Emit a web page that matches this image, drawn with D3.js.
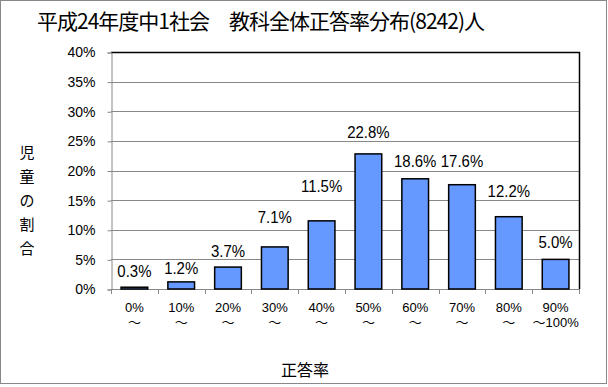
<!DOCTYPE html>
<html>
<head>
<meta charset="utf-8">
<script src="https://cdn.jsdelivr.net/npm/d3@7"></script>
<style>
  body { margin: 0; background: #fff; }
  text { font-family: "Liberation Sans", "Noto Sans CJK JP", sans-serif; }
</style>
</head>
<body>
<div id="viz"></div>
<script>
//-------Data-----------
var categories = ["0%", "10%", "20%", "30%", "40%", "50%", "60%", "70%", "80%", "90%"];
var secondLines = ["～", "～", "～", "～", "～", "～", "～", "～", "～", "～100%"];
var values = [0.3, 1.2, 3.7, 7.1, 11.5, 22.8, 18.6, 17.6, 12.2, 5.0];
var yTicks = [0, 5, 10, 15, 20, 25, 30, 35, 40];
var title = "平成24年度中1社会　教科全体正答率分布(8242)人";
var yTitle = ["児", "童", "の", "割", "合"];
var xTitle = "正答率";

//---------------------------------
var width = 608, height = 387;
var plot = {left: 111, right: 579, top: 52, bottom: 289};
// the labels were nudged by hand in the original, gap above each bar in px
var labelGap = [10, 8, 10, 24, 29, 16, 12, 18, 20, 11];

var svg = d3.select("#viz").append("svg")
    .attr("width", width)
    .attr("height", height);

svg.append("rect")
    .attr("x", 0.5).attr("y", 0.5)
    .attr("width", 606).attr("height", 383)
    .style("fill", "#fff")
    .style("stroke", "#888")
    .style("stroke-width", "1px");

//------Scales & axes-----------
var xScale = d3.scaleBand()
    .domain(categories)
    .range([plot.left, plot.right])
    .paddingInner(0.43)
    .paddingOuter(0.215);

var yScale = d3.scaleLinear()
    .domain([0, 40])
    .range([plot.bottom, plot.top]);

// gridlines
svg.append("g").selectAll("line")
    .data(yTicks.filter(d => d > 0 && d < 40))
    .enter().append("line")
    .attr("x1", plot.left).attr("x2", plot.right)
    .attr("y1", d => Math.round(yScale(d)) + 0.5)
    .attr("y2", d => Math.round(yScale(d)) + 0.5)
    .style("stroke", "#888")
    .style("stroke-width", "1px");

// plot border top & right
svg.append("path")
    .attr("d", "M" + plot.left + "," + (plot.top + 0.5) + "H" + (plot.right + 0.5) + "V" + plot.bottom)
    .style("fill", "none")
    .style("stroke", "#000")
    .style("stroke-width", "1.5px");

var yAxis = d3.axisLeft(yScale)
    .tickValues(yTicks)
    .tickFormat(d => d + "%")
    .tickSize(4)
    .tickPadding(12);

var gY = svg.append("g")
    .attr("transform", "translate(" + (plot.left + 0.5) + ",0.5)")
    .call(yAxis);
gY.select(".domain").style("stroke", "#888");
gY.selectAll(".tick line").style("stroke", "#888");
gY.selectAll(".tick text")
    .style("font-size", "14px")
    .style("font-family", "'Liberation Sans', sans-serif")
    .style("fill", "#000");

// x axis: boundary ticks
var step = xScale.step();
var boundaries = d3.range(categories.length + 1).map(i => plot.left + i * step);
svg.append("line")
    .attr("x1", plot.left).attr("x2", plot.right)
    .attr("y1", plot.bottom + 0.5).attr("y2", plot.bottom + 0.5)
    .style("stroke", "#888");
svg.append("g").selectAll("line")
    .data(boundaries)
    .enter().append("line")
    .attr("x1", d => Math.round(d) + 0.5).attr("x2", d => Math.round(d) + 0.5)
    .attr("y1", plot.bottom).attr("y2", plot.bottom + 5)
    .style("stroke", "#888");

var xLabels = svg.append("g").selectAll("g")
    .data(categories)
    .enter().append("g")
    .attr("transform", d => "translate(" + (xScale(d) + xScale.bandwidth() / 2) + ",0)");
xLabels.append("text")
    .attr("y", 312)
    .attr("text-anchor", "middle")
    .style("font-size", "13px")
    .text(d => d);
xLabels.append("text")
    .attr("y", 327)
    .attr("text-anchor", "middle")
    .style("font-size", "13px")
    .text((d, i) => secondLines[i]);

//------Bars--------------------
svg.append("g").selectAll("rect")
    .data(values)
    .enter().append("rect")
    .attr("x", (d, i) => xScale(categories[i]))
    .attr("y", d => yScale(d))
    .attr("width", xScale.bandwidth())
    .attr("height", d => plot.bottom - yScale(d))
    .style("fill", "#6699ff")
    .style("stroke", "#000")
    .style("stroke-width", "1.5px");

svg.append("g").selectAll("text")
    .data(values)
    .enter().append("text")
    .attr("x", (d, i) => xScale(categories[i]) + xScale.bandwidth() / 2)
    .attr("y", (d, i) => yScale(d) - labelGap[i])
    .attr("text-anchor", "middle")
    .style("font-size", "17px")
    .text(d => d.toFixed(1) + "%")
    .each(function() {
        var w = this.getComputedTextLength();
        d3.select(this).attr("textLength", w * 0.88).attr("lengthAdjust", "spacingAndGlyphs");
    });

//------Titles--------------------
svg.append("text")
    .attr("x", 37).attr("y", 29)
    .attr("textLength", 448)
    .style("font-family", "'Noto Sans CJK JP', sans-serif")
    .style("font-size", "21px")
    .text(title);

svg.append("g").selectAll("text")
    .data(yTitle)
    .enter().append("text")
    .attr("x", 27)
    .attr("y", (d, i) => 158 + i * 24)
    .attr("text-anchor", "middle")
    .style("font-family", "'Noto Sans CJK JP', sans-serif")
    .style("font-size", "15px")
    .text(d => d);

svg.append("text")
    .attr("x", 305).attr("y", 376)
    .attr("text-anchor", "middle")
    .style("font-family", "'Noto Sans CJK JP', sans-serif")
    .style("font-size", "16px")
    .text(xTitle);
</script>
</body>
</html>
